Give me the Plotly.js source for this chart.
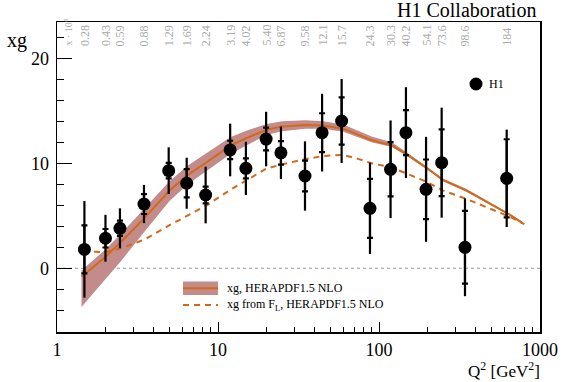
<!DOCTYPE html>
<html>
<head>
<meta charset="utf-8">
<script src="https://cdn.plot.ly/plotly-3.0.1.min.js"></script>
<style>html,body{margin:0;padding:0;background:#fff;}#chart{width:567px;height:382px;}</style>
</head>
<body>
<div id="chart"></div>
<script>
// H1 data points
const q2 = [1.48, 2.0, 2.46, 3.47, 4.94, 6.39, 8.38, 11.9, 14.9, 19.9, 24.6, 34.7, 44.3, 58.6, 87.9, 118, 147, 196, 245, 342, 621];
const xgData = [1.8, 2.86, 3.81, 6.12, 9.3, 8.1, 6.98, 11.27, 9.52, 12.31, 11.0, 8.79, 12.92, 14.03, 5.71, 9.43, 12.92, 7.52, 10.06, 2.0, 8.57];
const statErr = [2.28, 0.88, 0.72, 0.95, 0.74, 1.35, 0.79, 0.88, 0.95, 1.08, 1.12, 1.47, 1.85, 2.25, 2.81, 2.59, 2.15, 2.84, 3.18, 3.46, 3.72];
const totErr = [4.6, 2.23, 1.9, 1.82, 2.22, 2.43, 2.7, 2.51, 2.54, 2.6, 2.5, 3.3, 3.7, 4.0, 4.35, 4.65, 4.33, 5.0, 5.24, 4.66, 4.64];
const xLabels = ["0.28", "0.43", "0.59", "0.88", "1.29", "1.69", "2.24", "3.19", "4.02", "5.40", "6.87", "9.58", "12.1", "15.7", "24.3", "30.3", "40.2", "54.1", "73.6", "98.6", "184"];

// HERAPDF1.5 NLO xg
const q2Pdf = [1.42, 2.0, 2.5, 3.5, 5, 6.5, 8.5, 12, 15, 20, 25, 35, 45, 60, 90, 120, 150, 200, 250, 350, 650, 780];
const xgPdf = [-0.8, 1.1, 2.5, 4.8, 7.4, 8.9, 10.1, 11.7, 12.4, 13.2, 13.5, 13.65, 13.6, 13.3, 12.2, 11.7, 10.8, 9.5, 8.4, 7.4, 5.1, 4.3];
const xgPdfUp = [-0.2, 1.8, 3.3, 5.7, 8.3, 9.8, 10.95, 12.5, 13.1, 13.75, 14.0, 14.1, 14.0, 13.7, 12.55, 12.0, 11.0, 9.65, 8.55, 7.55, 5.2, 4.4];
const xgPdfLo = [-3.7, -1.1, 0.7, 3.5, 6.4, 8.0, 9.25, 10.9, 11.7, 12.7, 13.05, 13.3, 13.3, 13.0, 12.0, 11.55, 10.7, 9.4, 8.3, 7.3, 5.0, 4.2];

// xg from F_L
const q2FL = [1.45, 2.0, 2.5, 3.5, 5, 6.5, 8.5, 12, 15, 20, 25, 35, 45, 60, 75, 90, 120, 150, 200, 250, 350, 650, 800];
const xgFL = [1.6, 1.55, 1.9, 2.75, 4.1, 5.0, 6.0, 7.5, 8.4, 9.5, 9.9, 10.4, 10.7, 10.8, 10.4, 10.0, 9.6, 9.0, 8.2, 7.4, 6.6, 4.9, 4.2];

const orange = '#d06a1a';
const band = '#c48b8b';
const serif = 'Liberation Serif, Times New Roman, serif';

const traces = [
  {x: q2Pdf, y: xgPdfLo, mode: 'lines', line: {width: 0, color: band}, hoverinfo: 'skip', showlegend: false},
  {x: q2Pdf, y: xgPdfUp, mode: 'lines', fill: 'tonexty', fillcolor: band, line: {width: 0, color: band}, hoverinfo: 'skip', showlegend: false},
  {x: q2Pdf, y: xgPdf, mode: 'lines', line: {width: 2, color: orange}, showlegend: false},
  {x: q2FL, y: xgFL, mode: 'lines', line: {width: 2, color: orange, dash: '6px,5px'}, showlegend: false},
  {x: q2, y: xgData, mode: 'markers', marker: {size: 13, color: 'black'},
   error_y: {type: 'data', array: totErr, visible: true, color: 'black', thickness: 2.2, width: 0}, showlegend: false},
  {x: q2, y: xgData, mode: 'markers', marker: {size: 1, color: 'rgba(0,0,0,0)'},
   error_y: {type: 'data', array: statErr, visible: true, color: 'black', thickness: 2.2, width: 3}, showlegend: false}
];

const pxX = px => (px - 57) / 483;
const pxY = py => (332 - py) / 310;

const annotations = [
  {xref: 'paper', yref: 'paper', x: pxX(538), y: pxY(10), xanchor: 'right', yanchor: 'middle', text: 'H1 Collaboration', showarrow: false, font: {family: serif, size: 20, color: 'black'}},
  {xref: 'paper', yref: 'paper', x: pxX(17), y: pxY(40), xanchor: 'center', yanchor: 'middle', text: 'xg', showarrow: false, font: {family: serif, size: 20, color: 'black'}},
  {xref: 'paper', yref: 'paper', x: pxX(541), y: pxY(382), xanchor: 'right', yanchor: 'bottom', borderpad: 0, text: 'Q<sup>2</sup> [GeV<sup>2</sup>]', showarrow: false, font: {family: serif, size: 17, color: 'black'}},
  {xref: 'paper', yref: 'paper', x: pxX(67), y: pxY(48), xanchor: 'center', yanchor: 'bottom', textangle: -90, text: 'x · 10<sup>4</sup>', showarrow: false, font: {family: serif, size: 10, color: '#aaaaaa'}},
  {xref: 'paper', yref: 'paper', x: pxX(225), y: pxY(288), xanchor: 'left', yanchor: 'middle', text: 'xg, HERAPDF1.5 NLO', showarrow: false, font: {family: serif, size: 12, color: 'black'}},
  {xref: 'paper', yref: 'paper', x: pxX(225), y: pxY(305), xanchor: 'left', yanchor: 'middle', text: 'xg from F<sub>L</sub>, HERAPDF1.5 NLO', showarrow: false, font: {family: serif, size: 12, color: 'black'}},
  {xref: 'paper', yref: 'paper', x: pxX(487), y: pxY(84), xanchor: 'left', yanchor: 'middle', text: 'H1', showarrow: false, font: {family: serif, size: 12, color: 'black'}}
];
q2.forEach((q, i) => {
  annotations.push({xref: 'x', yref: 'paper', x: Math.log10(q), y: pxY(48), xanchor: 'center', yanchor: 'bottom', textangle: -90,
    text: xLabels[i], showarrow: false, font: {family: serif, size: 12, color: '#aaaaaa'}});
});

const shapes = [
  {type: 'line', xref: 'paper', yref: 'y', x0: 0, x1: 1, y0: 0, y1: 0, line: {color: '#999999', width: 1, dash: 'dot'}, layer: 'below'},
  {type: 'rect', xref: 'paper', yref: 'paper', x0: pxX(183), x1: pxX(218), y0: pxY(295), y1: pxY(281.5), fillcolor: band, line: {width: 0}},
  {type: 'line', xref: 'paper', yref: 'paper', x0: pxX(183), x1: pxX(218), y0: pxY(288.3), y1: pxY(288.3), line: {color: orange, width: 2}},
  {type: 'line', xref: 'paper', yref: 'paper', x0: pxX(183), x1: pxX(218), y0: pxY(305), y1: pxY(305), line: {color: orange, width: 2, dash: '6px,5px'}},
  {type: 'circle', xref: 'paper', yref: 'paper', xsizemode: 'pixel', ysizemode: 'pixel', xanchor: pxX(476), yanchor: pxY(84), x0: -6.5, x1: 6.5, y0: -6.5, y1: 6.5, fillcolor: 'black', line: {width: 0}}
];

const layout = {
  width: 567, height: 382,
  margin: {l: 57, r: 27, t: 22, b: 50, pad: 0},
  paper_bgcolor: 'white', plot_bgcolor: 'white',
  showlegend: false,
  font: {family: serif, color: 'black'},
  xaxis: {
    type: 'log', range: [0, 3], showgrid: false, zeroline: false,
    showline: true, linecolor: 'black', linewidth: 1.5, mirror: true,
    ticks: 'inside', ticklen: 10, tickwidth: 1, tickcolor: 'black',
    tickvals: [1, 10, 100, 1000], ticktext: ['1', '10', '100', '1000'],
    tickfont: {family: serif, size: 18, color: 'black'}, ticklabelstandoff: 1,
    minor: {ticks: 'inside', ticklen: 5, tickcolor: 'black', tickwidth: 1, tickvals: [2,3,4,5,6,7,8,9,20,30,40,50,60,70,80,90,200,300,400,500,600,700,800,900], showgrid: false}
  },
  yaxis: {
    range: [-6.07, 23.46], showgrid: false, zeroline: false,
    showline: true, linecolor: 'black', linewidth: 1.5, mirror: true,
    ticks: 'inside', ticklen: 15, tickwidth: 1, tickcolor: 'black',
    tickvals: [0, 10, 20], ticktext: ['0', '10', '20'],
    tickfont: {family: serif, size: 18, color: 'black'}, ticklabelstandoff: 3,
    minor: {ticks: 'inside', ticklen: 7, tickcolor: 'black', tickwidth: 1, dtick: 2, showgrid: false}
  },
  annotations: annotations,
  shapes: shapes
};

Plotly.newPlot('chart', traces, layout, {staticPlot: true, displayModeBar: false});
</script>
</body>
</html>
